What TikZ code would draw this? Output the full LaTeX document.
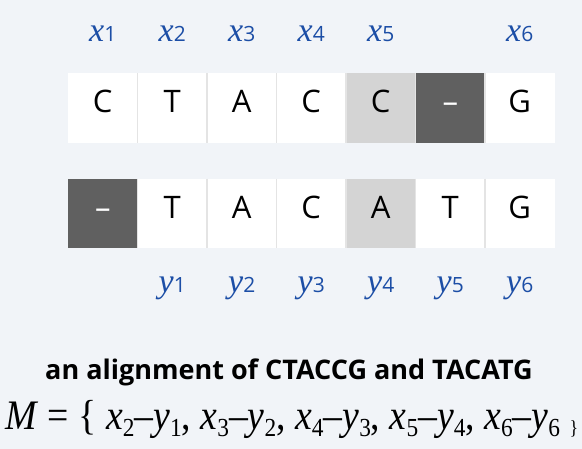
\documentclass[tikz,border=0pt]{standalone}
\usepackage{graphicx}
\usepackage{fontspec}
\setmainfont{Liberation Serif}
\newfontfamily\opensans{Open Sans}
\usetikzlibrary{positioning}

\definecolor{bgcol}{HTML}{F1F4F8}
\definecolor{labblue}{HTML}{1C4EA6}
\definecolor{gapdark}{HTML}{606060}
\definecolor{mismatch}{HTML}{D4D4D4}
\definecolor{cellline}{HTML}{E4E4E4}

\tikzset{
  cell/.style={fill=white, minimum width=69.5pt,
    minimum height=69.5pt, inner sep=0pt, text height=25pt, text depth=15pt,
    font=\opensans\fontsize{31}{31}\selectfont},
  gapcell/.style={cell, fill=gapdark, text=white},
  mmcell/.style={cell, fill=mismatch},
  sep/.style={draw=cellline, line width=1.5pt},
  lab/.style={anchor=base, text=labblue, inner sep=0pt},
}
\newcommand{\seqlab}[2]{{\fontsize{34}{34}\selectfont\itshape #1}{\opensans\fontsize{21}{21}\selectfont #2}}
\newcommand{\pairsub}[1]{\raisebox{-7pt}{\fontsize{26}{26}\selectfont #1}}

\begin{document}
\begin{tikzpicture}[x=1pt,y=-1pt]
\fill[bgcol] (0,0) rectangle (582,449);
\useasboundingbox (0,0) rectangle (582,449);
\foreach \ch/\st [count=\i] in {C/cell,T/cell,A/cell,C/cell,C/mmcell,–/gapcell,G/cell}
  \node[\st] (top\i) at ({102.75+69.5*(\i-1)},108) {\ch};
\foreach \ch/\st [count=\i] in {–/gapcell,T/cell,A/cell,C/cell,A/mmcell,T/cell,G/cell}
  \node[\st] (bot\i) at ({102.75+69.5*(\i-1)},213.5) {\ch};
\foreach \i in {1,...,6} {
  \draw[sep] (top\i.north east) -- (top\i.south east);
  \draw[sep] (bot\i.north east) -- (bot\i.south east);
}
\foreach \c/\n in {1/1,2/2,3/3,4/4,5/5,7/6}
  \node[lab] (x\n) at ({102.75+69.5*(\c-1)},42) {\seqlab{x}{\n}};
\foreach \n in {1,...,6}
  \node[lab] (y\n) at ({102.75+69.5*\n},293) {\seqlab{y}{\n}};
\node[anchor=base, inner sep=0pt, font=\opensans\bfseries\fontsize{27}{27}\selectfont] (title) at (289,380) {an alignment of CTACCG and TACATG};
\node[anchor=base west, inner sep=0pt] (match) at (5,430) {\resizebox{573pt}{\height}{\fontsize{42}{42}\selectfont
  \textit{M} = \{ \textit{x}\pairsub{2}–\textit{y}\pairsub{1}, \textit{x}\pairsub{3}–\textit{y}\pairsub{2},
  \textit{x}\pairsub{4}–\textit{y}\pairsub{3}, \textit{x}\pairsub{5}–\textit{y}\pairsub{4},
  \textit{x}\pairsub{6}–\textit{y}\pairsub{6} {\fontsize{20}{20}\selectfont\raisebox{-5pt}{\}}}}};
\end{tikzpicture}
\end{document}
